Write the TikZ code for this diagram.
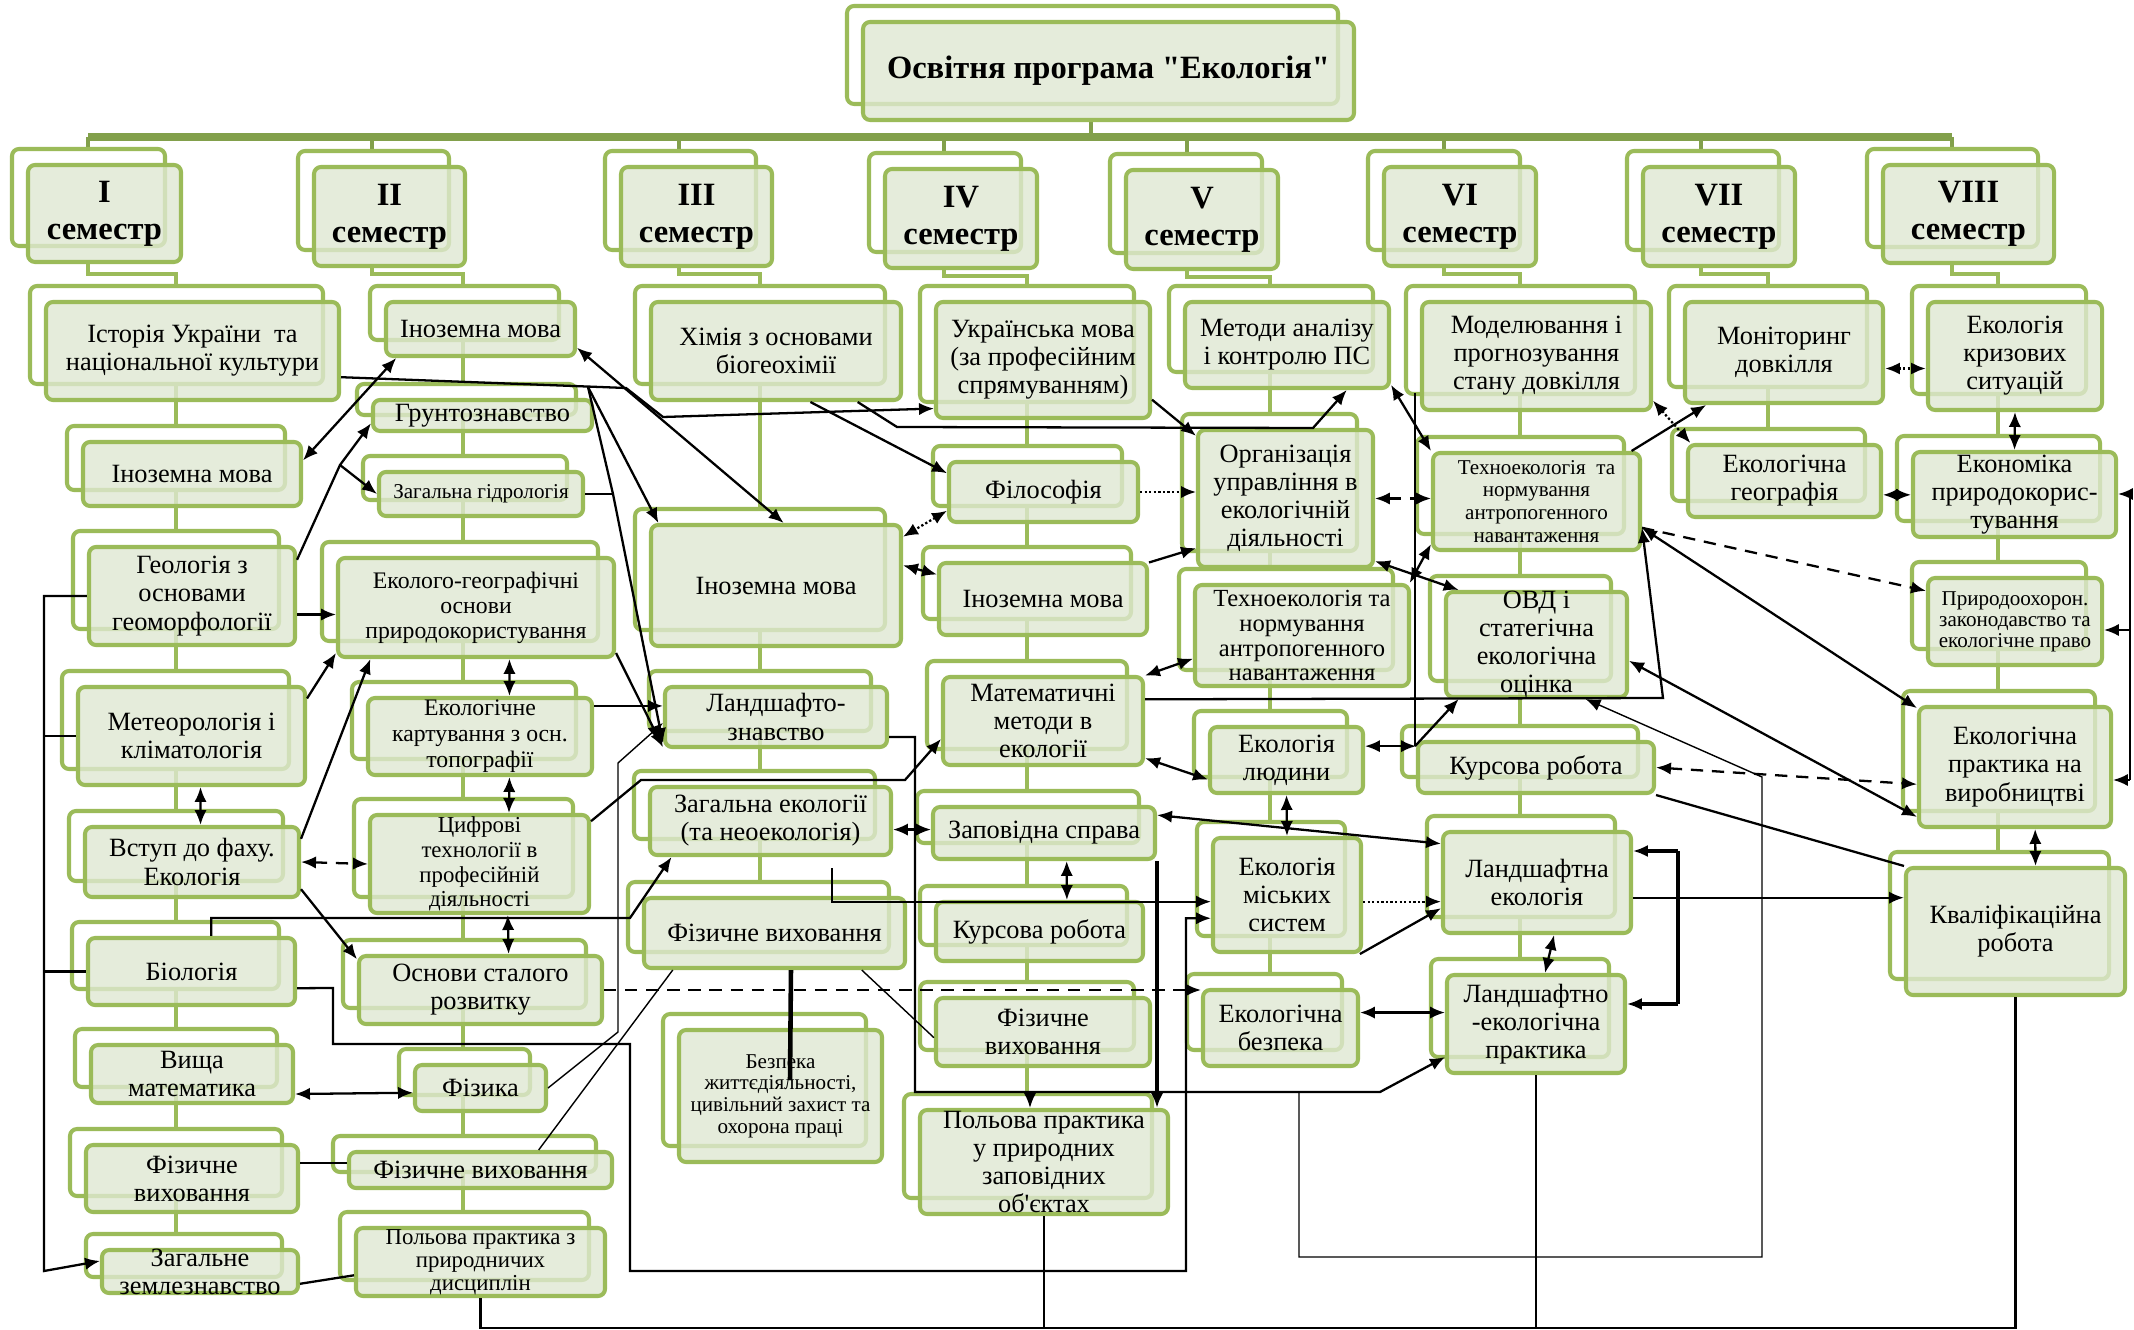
\documentclass[tikz,border=0pt]{standalone}
\usepackage{fontspec}
\setmainfont{Liberation Serif}[Ligatures=TeXOff]
\usetikzlibrary{arrows.meta,shadows}
\definecolor{boxline}{HTML}{9BBB59}
\definecolor{boxfill}{HTML}{DFE8D2}
\definecolor{barline}{HTML}{82A04B}

\begin{document}
\begin{tikzpicture}[x=0.2mm,y=-0.2mm,>={Latex[length=8.5pt,width=7pt]},
  course/.style={rectangle,rounded corners=4pt,draw=boxline,line width=2.3pt,
    fill=boxfill,fill opacity=0.8,text opacity=1,align=center,inner sep=-12pt,
    font=\fontsize{15}{16}\selectfont,
    copy shadow={shadow xshift=-3.2mm,shadow yshift=3.2mm,draw=boxline,fill=white,fill opacity=1,line width=2.3pt}},
  semester/.style={course,font=\bfseries\fontsize{18.5}{21}\selectfont},
  sz/.style 2 args={minimum width=#1*0.2mm,minimum height=#2*0.2mm},
  fs/.style 2 args={font=\fontsize{#1}{#2}\selectfont},
  main bar/.style={draw=barline,line width=4pt},
  sem drop/.style={draw=barline,line width=2.6pt},
  col line/.style={draw=boxline,line width=2.3pt},
  link/.style={line width=1.3pt},
  thin link/.style={line width=0.8pt},
  heavy link/.style={line width=2.6pt},
  dash link/.style={link,dash pattern=on 7pt off 5pt},
  dot link/.style={link,dash pattern=on 1.3pt off 1.3pt}]
\useasboundingbox[fill=white] (0,0) rectangle (2134,1330);

\draw[main bar] (88,137) -- (1952,137);
\draw[sem drop] (1091,118) -- (1091,137);
\draw[sem drop] (88,137) -- (88,152);
\draw[sem drop] (372,137) -- (372,152);
\draw[sem drop] (679,137) -- (679,152);
\draw[sem drop] (944,137) -- (944,152);
\draw[sem drop] (1187,137) -- (1187,152);
\draw[sem drop] (1444,137) -- (1444,152);
\draw[sem drop] (1701,137) -- (1701,152);
\draw[sem drop] (1952,137) -- (1952,152);
\draw[col line] (88,260) |- (176,274) -- (176,1234);
\draw[col line] (372,264) |- (463,274) -- (463,1212);
\draw[col line] (679,264) |- (760,274) -- (760,882);
\draw[col line] (944,266) |- (1027,276) -- (1027,1094);
\draw[col line] (1187,267) |- (1270,277) -- (1270,974);
\draw[col line] (1444,264) |- (1520,274) -- (1520,959);
\draw[col line] (1701,264) |- (1768,274) -- (1768,429);
\draw[col line] (1952,261) |- (1998,274) -- (1998,852);

\node[semester,sz={491}{98}] (prog) at (1108.5,71) {Освітня програма "Екологія"};
\node[semester,sz={153}{97}] (s1) at (104.5,213.5) {I\\семестр};
\node[semester,sz={151}{99}] (s2) at (389.5,216.5) {II\\семестр};
\node[semester,sz={151}{99}] (s3) at (696.5,216.5) {III\\семестр};
\node[semester,sz={152}{99}] (s4) at (961,218.5) {IV\\семестр};
\node[semester,sz={152}{99}] (s5) at (1202,219.5) {V\\семестр};
\node[semester,sz={152}{99}] (s6) at (1460,216.5) {VI\\семестр};
\node[semester,sz={152}{99}] (s7) at (1719,216.5) {VII\\семестр};
\node[semester,sz={171}{98}] (s8) at (1968.5,214) {VIII\\семестр};

\node[course,sz={293}{98}] (hist) at (192.5,351) {Історія України~ та\\національної культури};
\node[course,sz={218}{64}] (inoz1) at (192,474) {Іноземна мова};
\node[course,sz={206}{98}] (geol) at (192,596) {Геологія з\\основами\\геоморфології};
\node[course,sz={227}{98}] (meteo) at (191.5,736) {Метеорологія і\\кліматологія};
\node[course,sz={214}{70}] (vstup) at (192,862) {Вступ до фаху.\\Екологія};
\node[course,sz={207}{67}] (biol) at (191.5,971.5) {Біологія};
\node[course,sz={202}{58}] (vyshch) at (192,1074) {Вища\\математика};
\node[course,sz={212}{67}] (fiz1) at (192,1178.5) {Фізичне\\виховання};
\node[course,sz={196}{43}] (zemle) at (200,1271.5) {Загальне\\землезнавство};

\node[course,sz={189}{54}] (inoz2) at (480.5,329) {Іноземна мова};
\node[course,sz={219}{31}] (grunt) at (482.5,415.5) {Грунтознавство};
\node[course,sz={204}{44},fs={12}{13}] (gidro) at (481,494) {Загальна гідрологія};
\node[course,sz={276}{99},fs={13.5}{14.2}] (ekogeo) at (476,607.5) {Еколого-географічні\\основи\\природокористування};
\node[course,sz={224}{77},fs={13.5}{14.8}] (kart) at (480,736.5) {Екологічне\\картування з осн.\\топографії};
\node[course,sz={219}{98},fs={13}{14}] (tsyfr) at (479.5,864) {Цифрові\\технології в\\професійній\\діяльності};
\node[course,sz={243}{68}] (osnovy) at (480.5,990) {Основи сталого\\розвитку};
\node[course,sz={131}{46}] (fizyka) at (480.5,1088) {Фізика};
\node[course,sz={263}{36}] (fiz2) at (480.5,1170) {Фізичне виховання};
\node[course,sz={249}{68},fs={13}{13}] (polova2) at (480.5,1262) {Польова практика з\\природничих\\дисциплін};

\node[course,sz={250}{98}] (khim) at (776,351) {Хімія з основами\\біогеохімії};
\node[course,sz={250}{121}] (inoz3) at (776,585.5) {Іноземна мова};
\node[course,sz={222}{60}] (landsh) at (776,717) {Ландшафто-\\знавство};
\node[course,sz={241}{68}] (zagek) at (770.5,821) {Загальна екології\\(та неоекологія)};
\node[course,sz={261}{70}] (fiz3) at (774.5,933) {Фізичне виховання};
\node[course,sz={203}{132},fs={12}{12.3}] (bezp) at (780.5,1096) {Безпека\\життєдіяльності,\\цивільний захист та\\охорона праці};

\node[course,sz={214}{116}] (ukr) at (1043,360) {Українська мова\\(за професійним\\спрямуванням)};
\node[course,sz={189}{60}] (filos) at (1043.5,492) {Філософія};
\node[course,sz={208}{72}] (inoz4) at (1043,599) {Іноземна мова};
\node[course,sz={200}{88}] (matem) at (1043,721) {Математичні\\методи в\\екології};
\node[course,sz={222}{52}] (zapov) at (1044,833) {Заповідна справа};
\node[course,sz={207}{59}] (kurs4) at (1039.5,931.5) {Курсова робота};
\node[course,sz={214}{68}] (fiz4) at (1043,1032) {Фізичне\\виховання};
\node[course,sz={248}{104}] (polova4) at (1044,1162) {Польова практика\\у природних\\заповідних\\об'єктах};

\node[course,sz={204}{86}] (metody) at (1287,345) {Методи аналізу\\і контролю ПС};
\node[course,sz={175}{137}] (orhan) at (1285.5,498.5) {Організація\\управління в\\екологічній\\діяльності};
\node[course,sz={214}{101},fs={14}{14.2}] (tekhno5) at (1302,635.5) {Техноекологія та\\нормування\\антропогенного\\навантаження};
\node[course,sz={153}{66}] (ekoliud) at (1286.5,760) {Екологія\\людини};
\node[course,sz={148}{114}] (ekomis) at (1287,895) {Екологія\\міських\\систем};
\node[course,sz={155}{76}] (ekobezp) at (1280.5,1028) {Екологічна\\безпека};

\node[course,sz={229}{108}] (model) at (1536.5,356) {Моделювання і\\прогнозування\\стану довкілля};
\node[course,sz={207}{97},fs={12}{13}] (tekhno6) at (1536.5,501.5) {Техноекологія~ та\\нормування\\антропогенного\\навантаження};
\node[course,sz={181}{105}] (ovd) at (1536.5,644.5) {ОВД і\\статегічна\\екологічна\\оцінка};
\node[course,sz={236}{51}] (kurs6) at (1536,767.5) {Курсова робота};
\node[course,sz={188}{101}] (landek) at (1537,882.5) {Ландшафтна\\екологія};
\node[course,sz={178}{98}] (landpr) at (1536,1024) {Ландшафтно\\-екологічна\\практика};

\node[course,sz={198}{101}] (monit) at (1784,352.5) {Моніторинг\\довкілля};
\node[course,sz={193}{72}] (ekogeog) at (1784.5,481) {Екологічна\\географія};

\node[course,sz={174}{108}] (kryz) at (2015,356) {Екологія\\кризових\\ситуацій};
\node[course,sz={203}{85}] (ekonom) at (2014.5,494.5) {Економіка\\природокорис-\\тування};
\node[course,sz={174}{87},fs={12}{12}] (pryrod) at (2015,621.5) {Природоохорон.\\законодавство та\\екологічне право};
\node[course,sz={192}{120}] (praktvyr) at (2015,767) {Екологічна\\практика на\\виробництві};
\node[course,sz={219}{127}] (kvalif) at (2015.5,931.5) {Кваліфікаційна\\робота};

\coordinate (c_hist) at (588,387);
\coordinate (c_geol) at (340,465);
\coordinate (c_gr) at (613,494);
\coordinate (rail) at (44,596);
\coordinate (c_zag) at (832,868);
\coordinate (c_bus) at (1030,1092);
\coordinate (c_bus2) at (1299,1092);
\coordinate (c_mod) at (1415,393);
\coordinate (br1) at (1678,851);
\coordinate (br2) at (1678,1004);
\coordinate (rr1) at (2130,494);
\coordinate (rr2) at (2130,630);
\coordinate (rr3) at (2130,780);
\coordinate (bus) at (0,1328);
\coordinate (bz) at (790,1080);

\draw[link,->] (hist.-10) -- (626,388) -- (663,417) -- (ukr.204);
\draw[link,->] (c_hist) -- (inoz3.152);
\draw[link,->] (c_hist) -- (c_gr) -- (landsh.193);
\draw[link] (gidro.east) -- (c_gr);
\draw[link,<->] (inoz1.7) -- (inoz2.199);
\draw[link,->] (geol.19) -- (c_geol) -- (grunt.184);
\draw[link,->] (c_geol) -- (gidro.west);
\draw[link,->] (geol.-10) -- (geol.-10 -| ekogeo.west);
\draw[link,->] (meteo.18) -- (ekogeo.198);
\draw[link,->] (vstup.12) -- (ekogeo.206);
\draw[link,<->] (ekogeo.-57) -- (kart.54);
\draw[link,<->] (kart.-54) -- (tsyfr.60);
\draw[link,<->] (tsyfr.-61) -- (osnovy.52);
\draw[link,<->] (meteo.-80) -- (vstup.77);
\draw[dash link,<->] (vstup.east) -- (tsyfr.west);
\draw[link,->] (vstup.-14) -- (osnovy.166);
\draw[link,->] (biol.61) |- (630,918) -- (zagek.200);
\draw[link,->] (biol.-9) -- (333,988) |- (630,1044) |- (1186,1271) |- (ekomis.197);
\draw[link,->] (geol.west) -- (rail) -- (44,1271) -- (zemle.174);
\draw[link] (meteo.west) -- (meteo.west -| rail);
\draw[link] (biol.west) -- (biol.west -| rail);
\draw[link,<->] (vyshch.-11) -- (fizyka.184);
\draw[link] (fiz1.8) -- (fiz1.8 -| fiz2.west);
\draw[link] (zemle.-7) -- (polova2.186);
\draw[thin link,->] (fizyka.east) -- (618,1032) -- (618,763) -- (landsh.183);
\draw[thin link] (fiz2.19) -- (fiz3.200);
\draw[heavy link] (fiz3.-66) -- (bz);
\draw[thin link] (fiz3.-23) -- (fiz4.183);
\draw[dash link,->] (osnovy.east) -- (osnovy.east -| ekobezp.north west);
\draw[link,->] (landsh.-10) -| (915,1092) -- (1380,1092) -- (landpr.200);
\draw[link,->] (c_bus) -- (c_bus |- polova4.north);
\draw[thin link,->] (c_bus2) -- (1299,1257) -- (1762,1257) -- (1762,777) -- (ovd.-48);
\draw[heavy link,->] (zapov.south east) -- (zapov.south east |- polova4.north);
\draw[link,->] (tsyfr.21) -- (641,780) -- (905,780) -- (matem.190);
\draw[link,->] (ekogeo.-18) -- (landsh.195);
\draw[link,->] (kart.15) -- (kart.15 -| landsh.west);
\draw[link,<->] (inoz2.-11) -- (inoz3.83);
\draw[link,->] (khim.-56) -- (filos.169);
\draw[link,->] (khim.-32) -- (897,427) -- (1313,428) -- (metody.-37);
\draw[link,->] (ukr.-20) -- (orhan.145);
\draw[dot link,->] (filos.east) -- (filos.east -| orhan.west);
\draw[dot link,<->] (filos.191) -- (inoz3.21);
\draw[link,<->] (inoz3.9) -- (inoz4.167);
\draw[link,->] (inoz4.19) -- (orhan.209);
\draw[link,<->] (matem.24) -- (tekhno5.192);
\draw[link,<->] (matem.-20) -- (ekoliud.194);
\draw[link,->] (matem.12) -- (1663,698) -- (tekhno6.-14);
\draw[link,<->] (zagek.-4) -- (zagek.-4 -| zapov.west);
\draw[link,<->] (zapov.-51) -- (kurs4.49);
\draw[link,->] (c_zag) |- (ekomis.185);
\draw[link,<->] (ekoliud.south) -- (ekomis.north);
\draw[link,<->] (zapov.9) -- (landek.158);
\draw[dot link,->] (ekomis.-5) -- (ekomis.-5 -| landek.west);
\draw[link,->] (ekomis.-39) -- (landek.195);
\draw[link,<->] (landek.-72) -- (landpr.80);
\draw[link,<->] (ekobezp.11) -- (ekobezp.11 -| landpr.west);
\draw[heavy link] (br1) -- (br2);
\draw[heavy link,->] (br1) -- (br1 -| landek.east);
\draw[heavy link,->] (br2) -- (br2 -| landpr.east);
\draw[link,->] (landek.-9) -- (landek.-9 -| kvalif.west);
\draw[link] (kurs6.south east) -- (kvalif.north west);
\draw[link,<->] (praktvyr.-72) -- (kvalif.73);
\draw[link,<->] (kryz.south) -- (ekonom.north);
\draw[dot link,line width=2.2pt,<->] (monit.-9) -- (monit.-9 -| kryz.west);
\draw[link,<->] (ekogeog.-8) -- (ekogeog.-8 -| ekonom.west);
\draw[link] (rr1) -- (rr3);
\draw[link,->] (rr1) -- (rr1 -| ekonom.east);
\draw[link,->] (rr2) -- (rr2 -| pryrod.east);
\draw[link,->] (rr3) -- (rr3 -| praktvyr.east);
\draw[dash link,->] (tekhno6.-14) -- (pryrod.161);
\draw[link,<->] (tekhno6.-14) -- (praktvyr.149);
\draw[link,<->] (ovd.-10) -- (praktvyr.207);
\draw[dash link,<->] (kurs6.east) -- (praktvyr.190);
\draw[link,<->] (ekoliud.10) -- (ekoliud.10 -| kurs6.west);
\draw[link] (c_mod) -- (c_mod |- ekoliud.10);
\draw[link,->] (c_mod |- ekoliud.10) -- (ovd.215);
\draw[dash link,<->] (orhan.east) -- (orhan.east -| tekhno6.west);
\draw[link,<->] (orhan.-35) -- (ovd.145);
\draw[link,<->] (tekhno5.26) -- (tekhno6.202);
\draw[link,<->] (metody.-21) -- (tekhno6.north west);
\draw[dot link,<->] (model.-21) -- (ekogeog.158);
\draw[link,->] (tekhno6.28) -- (monit.214);
\draw[link] (polova2.south) |- (bus -| kvalif.south) -- (kvalif.south);
\draw[link] (polova4.south) -- (polova4.south |- bus);
\draw[link] (landpr.south) -- (landpr.south |- bus);
\end{tikzpicture}
\end{document}
